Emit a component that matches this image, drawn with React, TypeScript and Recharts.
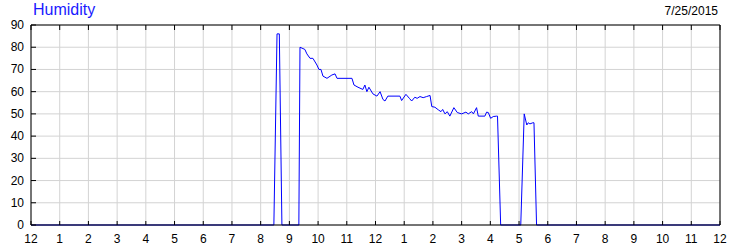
import React from "react";
import { LineChart, Line, XAxis, YAxis, CartesianGrid } from "recharts";

// time of day in hours (0 = midnight) and humidity readings in %
const hours = [
  0, 8.46, 8.57, 8.65, 8.74, 9.33, 9.37, 9.54, 9.61, 9.72, 9.82, 9.96, 10.03, 10.1, 10.17,
  10.31, 10.48, 10.59, 10.66, 11.18, 11.25, 11.39, 11.56, 11.63, 11.7, 11.77, 11.91, 12.05,
  12.16, 12.26, 12.33, 12.43, 12.85, 12.91, 13.06, 13.18, 13.26, 13.37, 13.45, 13.55, 13.66,
  13.78, 13.9, 13.96, 14.07, 14.19, 14.28, 14.34, 14.42, 14.5, 14.59, 14.73, 14.85, 15.0,
  15.15, 15.23, 15.35, 15.41, 15.52, 15.58, 15.81, 15.87, 15.93, 16.01, 16.1, 16.22, 16.25,
  16.36, 17.06, 17.18, 17.27, 17.32, 17.38, 17.48, 17.52, 17.61, 24,
];
const humidity = [
  0, 0, 86, 86, 0, 0, 80, 79, 77, 75, 75, 72, 70, 70, 67,
  66, 67.5, 68, 66, 66, 63, 62, 61, 63, 60, 62, 59, 58,
  60, 56.5, 55.8, 58, 58, 56, 58.8, 57, 55.8, 57.5, 57, 57.8, 57.3,
  57.8, 58.3, 53.3, 53, 51.8, 51, 52, 50, 51, 49, 52.8, 50.6, 50,
  50.8, 50, 51, 50, 52.8, 49, 49, 50.8, 50.6, 48, 48.8, 49, 49,
  0, 0, 50, 45, 46, 45.5, 46, 46, 0, 0,
];
const hourTicks = [0, 1, 2, 3, 4, 5, 6, 7, 8, 9, 10, 11, 12, 13, 14, 15, 16, 17, 18, 19, 20, 21, 22, 23, 24];
const valueTicks = [0, 10, 20, 30, 40, 50, 60, 70, 80, 90];
const title = "Humidity";
const dateLabel = "7/25/2015";

const data = hours.map((h, i) => ({ h, v: humidity[i] }));
const font = "'Liberation Sans', Arial, sans-serif";
const hourLabel = (h: number) => (h % 12 === 0 ? 12 : h % 12);

// eslint-disable-next-line @typescript-eslint/no-explicit-any
function BottomTick(props: any) {
  const { x, y, payload } = props;
  return (
    <g>
      <line x1={x} y1={y} x2={x} y2={y - 4} stroke="#000" />
      <text x={x} y={y + 18} textAnchor="middle" fontSize={12} fontFamily={font} fill="#000">
        {hourLabel(payload.value)}
      </text>
    </g>
  );
}

// eslint-disable-next-line @typescript-eslint/no-explicit-any
function TopTick(props: any) {
  const { x, y } = props;
  return <line x1={x} y1={y} x2={x} y2={y + 5} stroke="#000" />;
}

// eslint-disable-next-line @typescript-eslint/no-explicit-any
function LeftTick(props: any) {
  const { x, y, payload } = props;
  return (
    <g>
      <line x1={x} y1={y} x2={x + 5} y2={y} stroke="#000" />
      <text x={x - 7} y={y + 4} textAnchor="end" fontSize={12} fontFamily={font} fill="#000">
        {payload.value}
      </text>
    </g>
  );
}

// eslint-disable-next-line @typescript-eslint/no-explicit-any
function RightTick(props: any) {
  const { x, y, payload } = props;
  return (
    <g>
      <line x1={x} y1={y} x2={x - 5} y2={y} stroke="#000" />
      <text x={x + 10} y={y + 4} textAnchor="start" fontSize={12} fontFamily={font} fill="#000">
        {payload.value}
      </text>
    </g>
  );
}

export default function App() {
  return (
    <div style={{ position: "absolute", left: 0, top: 0, width: 750, height: 250, background: "#fff" }}>
      <div style={{ position: "absolute", left: 33, top: 1, fontSize: 16, fontFamily: font, color: "#1a1aff" }}>
        {title}
      </div>
      <div style={{ position: "absolute", right: 32, top: 4, fontSize: 12, fontFamily: font, color: "#000" }}>
        {dateLabel}
      </div>
      <LineChart width={750} height={250} data={data} margin={{ top: 0, right: 0, bottom: 0, left: 0 }}>
        <CartesianGrid stroke="#d3d3d3" />
        <XAxis
          dataKey="h"
          type="number"
          domain={[0, 24]}
          ticks={hourTicks}
          interval={0}
          height={25}
          tickSize={0}
          tickMargin={0}
          tickLine={false}
          axisLine={{ stroke: "#000" }}
          tick={<BottomTick />}
        />
        <XAxis
          xAxisId="top"
          orientation="top"
          dataKey="h"
          type="number"
          domain={[0, 24]}
          ticks={hourTicks}
          interval={0}
          height={25}
          tickSize={0}
          tickMargin={0}
          tickLine={false}
          axisLine={{ stroke: "#000" }}
          tick={<TopTick />}
        />
        <YAxis
          type="number"
          domain={[0, 90]}
          ticks={valueTicks}
          interval={0}
          width={31}
          tickSize={0}
          tickMargin={0}
          tickLine={false}
          axisLine={{ stroke: "#000" }}
          tick={<LeftTick />}
        />
        <YAxis
          yAxisId="right"
          orientation="right"
          type="number"
          domain={[0, 90]}
          ticks={valueTicks}
          interval={0}
          width={30}
          tickSize={0}
          tickMargin={0}
          tickLine={false}
          axisLine={{ stroke: "#000" }}
          tick={<RightTick />}
        />
        <Line
          type="linear"
          dataKey="v"
          stroke="#0000ff"
          strokeWidth={1}
          dot={false}
          isAnimationActive={false}
        />
      </LineChart>
    </div>
  );
}
